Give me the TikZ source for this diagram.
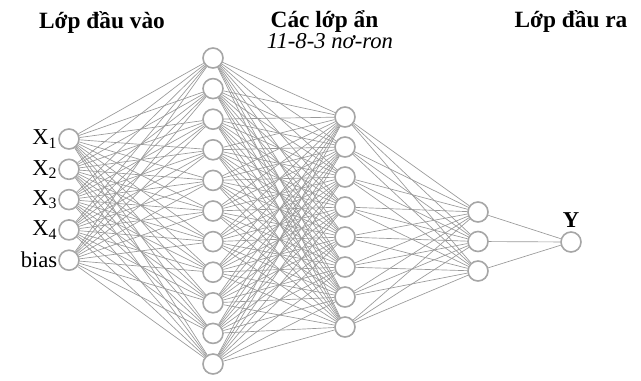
\documentclass[tikz,border=0pt]{standalone}
\usepackage{fontspec}
\setmainfont{Liberation Serif}[
  BoldFont={Liberation Serif Bold},
  ItalicFont={Liberation Serif Italic}]
\usepackage{tikz}
\usetikzlibrary{positioning}

\begin{document}
\begin{tikzpicture}[x=0.75pt, y=-0.75pt,
  neuron/.style={circle, draw=gray!70, line width=1.2pt, minimum size=15pt, inner sep=0pt, fill=white},
  wire/.style={draw=gray!80, line width=0.5pt},
  ttl/.style={font=\fontsize{17.5}{20}\selectfont\bfseries},
  lbl/.style={font=\fontsize{17}{20}\selectfont, inner sep=0.5pt}
]
\useasboundingbox (0,0) rectangle (641,380);

% layers
\foreach \i in {1,...,5} \node[neuron] (i\i) at (69,{139+30.3*(\i-1)}) {};
\foreach \i in {1,...,11} \node[neuron] (a\i) at (213,{58+30.6*(\i-1)}) {};
\foreach \i in {1,...,8} \node[neuron] (b\i) at (345,{117+30*(\i-1)}) {};
\foreach \i in {1,...,3} \node[neuron] (c\i) at (478,{212+29.5*(\i-1)}) {};
\node[neuron] (y) at (571,242) {};

% full connections between layers
\foreach \i in {1,...,5} \foreach \j in {1,...,11} \draw[wire] (i\i) -- (a\j);
\foreach \i in {1,...,11} \foreach \j in {1,...,8} \draw[wire] (a\i) -- (b\j);
\foreach \i in {1,...,8} \foreach \j in {1,...,3} \draw[wire] (b\i) -- (c\j);
\foreach \i in {1,...,3} \draw[wire] (c\i) -- (y);

% input and output labels
\node[lbl, left=0pt of i1] (x1) {X\textsubscript{1}};
\node[lbl, left=0pt of i2] (x2) {X\textsubscript{2}};
\node[lbl, left=0pt of i3] (x3) {X\textsubscript{3}};
\node[lbl, left=0pt of i4] (x4) {X\textsubscript{4}};
\node[lbl, left=0pt of i5] (xb) {bias};
\node[lbl, font=\fontsize{17}{20}\selectfont\bfseries, above=2pt of y] (ylbl) {Y};

% titles
\node[ttl, anchor=base] (tin) at (102,28) {Lớp đầu vào};
\node[ttl, anchor=base west] (thid) at (266,27) {Các lớp ẩn};
\node[lbl, font=\fontsize{17}{20}\selectfont\itshape, anchor=base west] (tnum) at (266,48) {11-8-3 nơ-ron};
\node[ttl, anchor=base] (tout) at (571,27) {Lớp đầu ra};
\end{tikzpicture}
\end{document}
